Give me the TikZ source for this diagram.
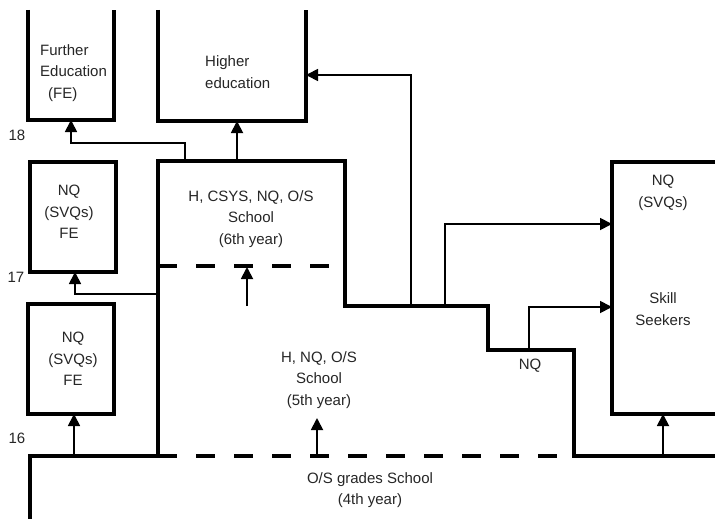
\documentclass[tikz,border=0pt]{standalone}
\usepackage{fontspec}
\setmainfont{Liberation Sans}
\usetikzlibrary{arrows.meta}
\begin{document}
\begin{tikzpicture}[x=1pt,y=-1pt,
  thickline/.style={line width=3.6pt, line join=miter},
  thinline/.style={line width=1.8pt},
  thinarrow/.style={line width=1.8pt, -{Triangle[width=12pt,length=12pt]}},
  dashline/.style={line width=3.6pt, dash pattern=on 19pt off 19pt},
  boxnode/.style={draw=none, rectangle, inner sep=0pt, outer sep=0pt},
  lbl/.style={font=\fontsize{15}{21.5}\selectfont, align=center, inner sep=0pt, text=black!85}
]
\useasboundingbox[fill=white] (0,0) rectangle (715,519);

% box shapes
\node[boxnode, minimum width=86pt, minimum height=110pt] (fe) at (71,65) {};
\node[boxnode, minimum width=148pt, minimum height=111pt] (he) at (232,65.5) {};
\node[boxnode, minimum width=86pt, minimum height=110pt] (nqa) at (73,217) {};
\node[boxnode, minimum width=86pt, minimum height=110pt] (nqb) at (71,359) {};
\node[boxnode, minimum width=103pt, minimum height=252pt] (ss) at (663.5,288) {};
\node[boxnode, minimum width=187pt, minimum height=145pt] (six) at (251.5,233.5) {};

% outlines
\draw[thickline] (fe.north west) -- (fe.south west) -- (fe.south east) -- (fe.north east);
\draw[thickline] (he.north west) -- (he.south west) -- (he.south east) -- (he.north east);
\draw[thickline] (nqa.north west) rectangle (nqa.south east);
\draw[thickline] (nqb.north west) rectangle (nqb.south east);
\draw[thickline] (ss.north east) -- (ss.north west) -- (ss.south west) -- (ss.south east);

% main stepped outline
\coordinate (bl) at (30,519);
\coordinate (blc) at (30,456);
\coordinate (wall) at (158,456);
\coordinate (s1) at (488,306);
\coordinate (s2) at (488,350);
\coordinate (s3) at (574,350);
\coordinate (s4) at (574,456);
\coordinate (s5) at (715,456);
\draw[thickline] (bl) -- (blc) -- (wall) -- (six.north west) -- (six.north east) -- (six.south east) -- (s1) -- (s2) -- (s3) -- (s4) -- (s5);

% dashed year boundaries
\coordinate (d1a) at (158,456);
\coordinate (d1b) at (557,456);
\coordinate (d2a) at (158,266);
\coordinate (d2b) at (330,266);
\draw[dashline] (d1a) -- (d1b);
\draw[dashline] (d2a) -- (d2b);

% connectors
\coordinate (a1) at (185,161);
\coordinate (a1b) at (185,143);
\draw[thinarrow] (a1) -- (a1b) -| (fe.south);
\coordinate (a2) at (237,161);
\draw[thinarrow] (a2) -- (a2 |- he.south);
\coordinate (a3) at (411,306);
\coordinate (a3b) at (411,75);
\draw[thinarrow] (a3) -- (a3b) -- (a3b -| he.east);
\coordinate (a4) at (445,306);
\coordinate (a4b) at (445,224);
\draw[thinarrow] (a4) -- (a4b) -- (a4b -| ss.west);
\coordinate (a5) at (529,350);
\coordinate (a5b) at (529,307);
\draw[thinarrow] (a5) -- (a5b) -- (a5b -| ss.west);
\coordinate (a6) at (247,306);
\coordinate (a6b) at (247,267);
\draw[thinarrow] (a6) -- (a6b);
\coordinate (a7) at (158,294);
\coordinate (a7b) at (75,294);
\draw[thinarrow] (a7) -- (a7b) -- (a7b |- nqa.south);
\coordinate (a8) at (74,456);
\draw[thinarrow] (a8) -- (a8 |- nqb.south);
\coordinate (a9) at (317,456);
\coordinate (a9b) at (317,418);
\draw[thinarrow] (a9) -- (a9b);
\coordinate (a10) at (663,456);
\draw[thinarrow] (a10) -- (a10 |- ss.south);

% texts
\node[lbl, align=left, anchor=west] (fetxt) at (40,73) {Further\\Education\\\hspace*{8pt}(FE)};
\node[lbl, align=left, anchor=west] (hetxt) at (205,72) {Higher\\education};
\node[lbl] (sixtxt) at (251,219) {H, CSYS, NQ, O/S\\School\\(6th year)};
\node[lbl] (nqatxt) at (69,212) {NQ\\(SVQs)\\FE};
\node[lbl] (nqbtxt) at (73,359) {NQ\\(SVQs)\\FE};
\node[lbl] (sstxta) at (663,193) {NQ\\(SVQs)};
\node[lbl] (sstxtb) at (663,309) {Skill\\Seekers};
\node[lbl] (fifthtxt) at (319,380) {H, NQ, O/S\\School\\(5th year)};
\node[lbl] (fourthtxt) at (370,490) {O/S grades School\\(4th year)};
\node[lbl] (age18) at (17,135) {18};
\node[lbl] (age17) at (16,277) {17};
\node[lbl] (age16) at (17,438) {16};
\node[lbl] (nqlbl) at (530,366) {NQ};
\end{tikzpicture}
\end{document}
